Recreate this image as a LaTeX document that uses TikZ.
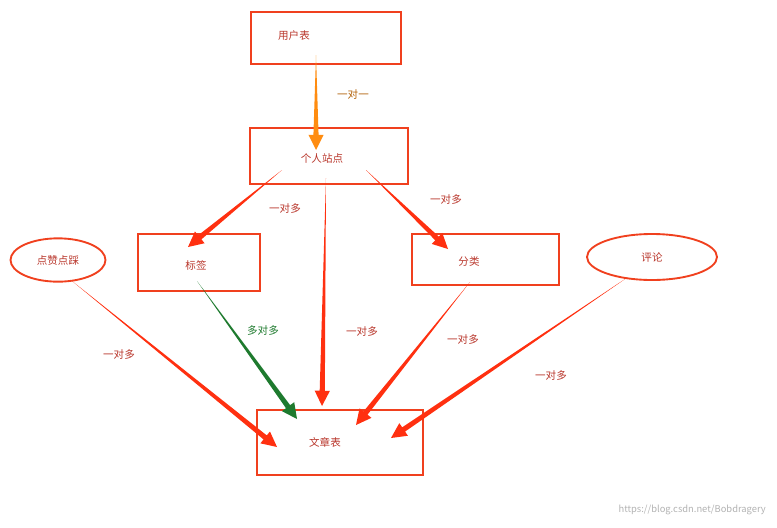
\documentclass[tikz,border=0pt]{standalone}
\usepackage{fontspec}
\setmainfont{Noto Sans CJK SC}
\usetikzlibrary{calc,shapes.geometric}
\definecolor{bx}{HTML}{F0401E}
\definecolor{tx}{HTML}{B8352A}
\definecolor{ar}{HTML}{FF3010}
\definecolor{og}{HTML}{FF8C10}
\definecolor{gr}{HTML}{1E7A2E}
\tikzset{box/.style={draw=bx,line width=1.6pt,minimum width=#1},
 lbl/.style={text=tx,font=\small},
 ell/.style={ellipse,draw=bx,line width=1.6pt,text=tx,font=\small}}
\newcommand\tarrow[3]{%
 \fill[#3] (#1) -- ($($(#2)!13pt!(#1)$)!2.2pt!90:(#2)$) -- ($($(#2)!13pt!(#1)$)!6.5pt!90:(#2)$) -- (#2)
 -- ($($(#2)!13pt!(#1)$)!6.5pt!-90:(#2)$) -- ($($(#2)!13pt!(#1)$)!2.2pt!-90:(#2)$) -- cycle;}
\begin{document}
\begin{tikzpicture}[x=0.03cm,y=-0.03cm]
\useasboundingbox (0,0) rectangle (777,527);
\draw[bx,line width=1.6pt] (251,12) rectangle (401,64);
\node[lbl] (u) at (294,35) {用户表};
\draw[bx,line width=1.6pt] (250,128) rectangle (408,184);
\node[lbl] (p) at (322,158) {个人站点};
\draw[bx,line width=1.6pt] (138,234) rectangle (260,291);
\node[lbl] (t) at (196,265) {标签};
\draw[bx,line width=1.6pt] (412,234) rectangle (559,285);
\node[lbl] (c) at (469,262) {分类};
\draw[bx,line width=1.6pt] (257,410) rectangle (423,475);
\node[lbl] (a) at (325,442) {文章表};
\node[ell,minimum width=2.85cm,minimum height=1.3cm] (z) at (58,260) {点赞点踩};
\node[ell,minimum width=3.9cm,minimum height=1.38cm] (r) at (652,257) {评论};
\coordinate (u1) at (316,55); \coordinate (p1) at (316,150);
\coordinate (p2) at (282,170); \coordinate (t1) at (188,247);
\coordinate (p3) at (366,170); \coordinate (c1) at (448,249);
\coordinate (p4) at (326,178); \coordinate (a1) at (322,406);
\coordinate (t2) at (197,281); \coordinate (a2) at (297,419);
\coordinate (c2) at (470,282); \coordinate (a3) at (356,425);
\coordinate (r1) at (628,277); \coordinate (a4) at (391,438);
\coordinate (z1) at (72,281); \coordinate (a5) at (277,447);
\tarrow{u1}{p1}{og}
\tarrow{p2}{t1}{ar}
\tarrow{p3}{c1}{ar}
\tarrow{p4}{a1}{ar}
\tarrow{t2}{a2}{gr}
\tarrow{c2}{a3}{ar}
\tarrow{r1}{a4}{ar}
\tarrow{z1}{a5}{ar}
\node[font=\small,text=og!70!black] (l1) at (353,94) {一对一};
\node[lbl] (l2) at (285,208) {一对多};
\node[lbl] (l3) at (446,199) {一对多};
\node[lbl] (l4) at (362,331) {一对多};
\node[font=\small,text=gr] (l5) at (263,330) {多对多};
\node[lbl] (l6) at (463,339) {一对多};
\node[lbl] (l7) at (551,375) {一对多};
\node[lbl] (l8) at (119,354) {一对多};
\node[font=\footnotesize,text=gray!60,anchor=east] (w) at (770,510) {https://blog.csdn.net/Bobdragery};
\end{tikzpicture}
\end{document}
